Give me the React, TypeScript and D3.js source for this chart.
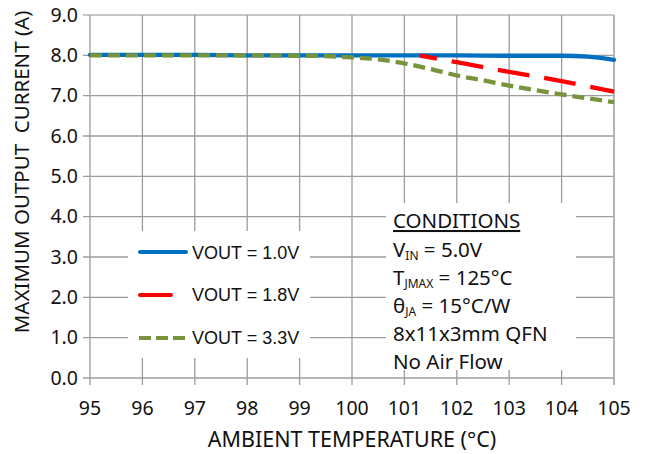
import React from "react";
import * as d3 from "d3";

// axis ticks
const tempTicks = [95, 96, 97, 98, 99, 100, 101, 102, 103, 104, 105];
const currentTicks = [0, 1, 2, 3, 4, 5, 6, 7, 8, 9];

// VOUT = 1.0V
const vout10Temp = [95, 96, 97, 98, 99, 100, 101, 102, 103, 104, 104.5, 105];
const vout10Current = [8.01, 8.01, 8.01, 8.0, 8.0, 8.0, 8.0, 8.0, 7.99, 7.99, 7.97, 7.89];

// VOUT = 1.8V
const vout18Temp = [101.3, 102, 103, 104, 105];
const vout18Current = [7.99, 7.83, 7.59, 7.36, 7.1];

// VOUT = 3.3V
const vout33Temp = [95, 96, 97, 98, 99, 99.5, 100, 100.5, 101, 101.5, 102, 102.5, 103, 104, 105];
const vout33Current = [8.0, 8.0, 8.0, 8.0, 7.99, 7.98, 7.95, 7.9, 7.8, 7.66, 7.5, 7.38, 7.25, 7.03, 6.84];

const legendLabels = ["VOUT = 1.0V", "VOUT = 1.8V", "VOUT = 3.3V"];

export default function App() {
  const width = 650;
  const height = 454;
  const left = 90;
  const right = 614;
  const top = 15;
  const bottom = 378;

  const x = d3.scaleLinear().domain([95, 105]).range([left, right]);
  const y = d3.scaleLinear().domain([0, 9]).range([bottom, top]);

  const line = d3
    .line<[number, number]>()
    .x((d) => x(d[0]))
    .y((d) => y(d[1]))
    .curve(d3.curveMonotoneX);

  const zip = (a: number[], b: number[]) => a.map((t, i) => [t, b[i]] as [number, number]);

  const series = [
    { pts: zip(vout10Temp, vout10Current), color: "#0070C0", dash: null, offset: 0 },
    { pts: zip(vout18Temp, vout18Current), color: "#FF0000", dash: "32 15", offset: 15 },
    { pts: zip(vout33Temp, vout33Current), color: "#77933C", dash: "12 6", offset: 0 },
  ];

  const gridColor = "#9c9c9c";
  const font = "'Noto Sans', sans-serif";

  return (
    <svg
      width={width}
      height={height}
      style={{ position: "absolute", left: 0, top: 0, background: "#fff" }}
    >
      {/* grid */}
      <g>
        {currentTicks.map((v) => (
          <line
            key={"h" + v}
            x1={left - 7}
            x2={right}
            y1={y(v)}
            y2={y(v)}
            stroke={v === 9 ? "#b4b4b4" : gridColor}
            strokeWidth={1.3}
          />
        ))}
        {tempTicks.map((t) => (
          <line
            key={"v" + t}
            x1={x(t)}
            x2={x(t)}
            y1={top}
            y2={bottom + 7}
            stroke={t === 105 ? "#b4b4b4" : gridColor}
            strokeWidth={t === 105 ? 2 : 1.3}
          />
        ))}
      </g>

      {/* boxes covering the grid */}
      <rect x={128} y={231} width={182} height={127} fill="#fff" />
      <rect x={386} y={203} width={190} height={167} fill="#fff" />

      {/* series */}
      {series.map((s, i) => (
        <path
          key={i}
          d={line(s.pts) || ""}
          fill="none"
          stroke={s.color}
          strokeWidth={4.3}
          strokeDasharray={s.dash || undefined}
          strokeDashoffset={s.offset}
          strokeLinecap={s.dash ? "butt" : "round"}
        />
      ))}

      {/* y tick labels */}
      {currentTicks.map((v) => (
        <text
          key={"yl" + v}
          x={78}
          y={y(v)}
          dy="0.35em"
          textAnchor="end"
          fontFamily={font}
          fontSize={19.5}
          fill="#111"
        >
          {v.toFixed(1)}
        </text>
      ))}

      {/* x tick labels */}
      {tempTicks.map((t) => (
        <text
          key={"xl" + t}
          x={x(t)}
          y={415}
          textAnchor="middle"
          fontFamily={font}
          fontSize={19.5}
          fill="#111"
        >
          {t}
        </text>
      ))}

      {/* axis titles */}
      <text
        x={x(100)}
        y={447}
        textAnchor="middle"
        fontFamily={font}
        fontSize={21.5}
        fill="#111"
      >
        AMBIENT TEMPERATURE (°C)
      </text>
      <text
        transform="translate(29,172) rotate(-90)"
        textAnchor="middle"
        fontFamily={font}
        fontSize={20.5}
        fill="#111"
        style={{ whiteSpace: "pre" }}
      >
        {"MAXIMUM OUTPUT  CURRENT (A)"}
      </text>

      {/* legend */}
      <g fontFamily="'Liberation Sans', Arial, sans-serif" fontSize={18} fill="#111">
        <line x1={140} x2={186} y1={252} y2={252} stroke="#0070C0" strokeWidth={4} strokeLinecap="round" />
        <line x1={140} x2={171} y1={295} y2={295} stroke="#FF0000" strokeWidth={4} strokeLinecap="round" />
        <line x1={139} x2={185} y1={338} y2={338} stroke="#77933C" strokeWidth={4} strokeDasharray="12 5" />
        {legendLabels.map((l, i) => (
          <text key={l} x={192} y={258.5 + i * 42.8}>
            {l}
          </text>
        ))}
      </g>

      {/* conditions */}
      <g fontFamily={font} fontSize={20.5} fill="#111">
        <text x={393} y={228} textDecoration="underline">
          CONDITIONS
        </text>
        <text x={393} y={256.5}>
          V<tspan fontSize={12} dy={3.5}>IN</tspan>
          <tspan dy={-3.5}> = 5.0V</tspan>
        </text>
        <text x={393} y={284.5}>
          T<tspan fontSize={12} dy={3.5}>JMAX</tspan>
          <tspan dy={-3.5}> = 125°C</tspan>
        </text>
        <text x={393} y={312.5}>
          θ<tspan fontSize={12} dy={3.5}>JA</tspan>
          <tspan dy={-3.5}> = 15°C/W</tspan>
        </text>
        <text x={393} y={340.5}>8x11x3mm QFN</text>
        <text x={393} y={368.5}>No Air Flow</text>
      </g>
    </svg>
  );
}
